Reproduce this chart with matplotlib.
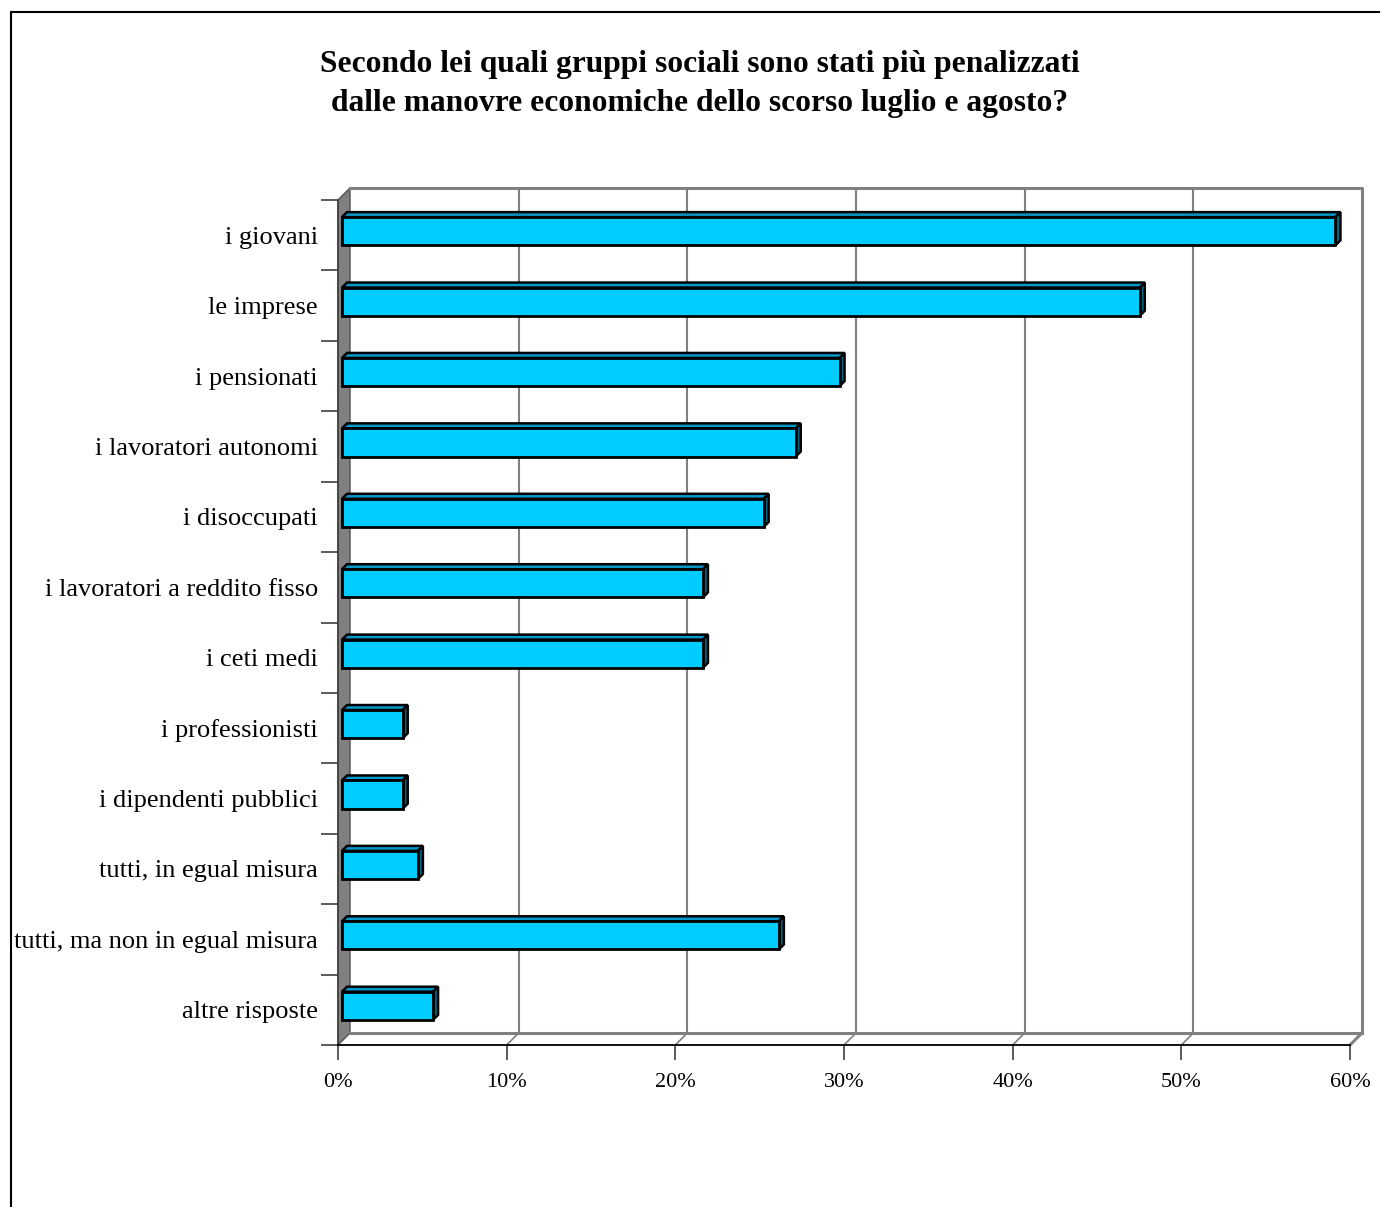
import matplotlib.pyplot as plt
from matplotlib.patches import Polygon, Rectangle

plt.rcParams['font.family'] = ['Liberation Serif', 'DejaVu Serif']

# data
categories = ["i giovani", "le imprese", "i pensionati", "i lavoratori autonomi",
              "i disoccupati", "i lavoratori a reddito fisso", "i ceti medi",
              "i professionisti", "i dipendenti pubblici", "tutti, in egual misura",
              "tutti, ma non in egual misura", "altre risposte"]
values = [58.9, 47.3, 29.5, 26.9, 25.0, 21.4, 21.4, 3.6, 3.6, 4.5, 25.9, 5.4]
xticks = [0, 10, 20, 30, 40, 50, 60]
xtick_labels = ["0%", "10%", "20%", "30%", "40%", "50%", "60%"]
title = ("Secondo lei quali gruppi sociali sono stati più penalizzati\n"
         "dalle manovre economiche dello scorso luglio e agosto?")

W, H = 1380, 1207
fig = plt.figure(figsize=(W / 100, H / 100), dpi=100)
ax = fig.add_axes([338 / W, 1 - 1045 / H, (1350 - 338) / W, (1045 - 200) / H])

n = len(categories)
xmax = 60
ax.set_xlim(0, xmax)
ax.set_ylim(n, 0)

# pixel sizes of the pseudo 3d depth, turned into data units
px_x = xmax / (1350 - 338)
px_y = n / (1045 - 200)
Dx, Dy = 12 * px_x, 12 * px_y      # wall depth
dx, dy = 4 * px_x, 4 * px_y        # bar set back from front
bx, by = 5 * px_x, 5 * px_y        # bar depth
grey = "#808080"

# left wall
ax.add_patch(Polygon([(0, 0), (Dx, -Dy), (Dx, n - Dy), (0, n)], closed=True,
                     facecolor=grey, edgecolor="#505050", lw=1, clip_on=False, zorder=1))
# back wall outline
ax.plot([Dx, xmax + Dx, xmax + Dx], [-Dy, -Dy, n - Dy], color=grey, lw=2.2,
        clip_on=False, zorder=1)
ax.plot([Dx, xmax + Dx], [n - Dy, n - Dy], color=grey, lw=2.2, clip_on=False, zorder=1)
ax.plot([xmax, xmax + Dx], [n, n - Dy], color=grey, lw=2.2, clip_on=False, zorder=1)

# gridlines on back wall and floor
for t in xticks[1:-1]:
    ax.plot([t + Dx, t + Dx], [-Dy, n - Dy], color=grey, lw=1.5, clip_on=False, zorder=1)
    ax.plot([t, t + Dx], [n, n - Dy], color=grey, lw=1.2, clip_on=False, zorder=1)

# bars
bar_h = 0.4
for i, v in enumerate(values):
    yc = i + 0.5 - dy
    yt, yb = yc - bar_h / 2, yc + bar_h / 2
    x0, x1 = dx, dx + v
    ax.add_patch(Polygon([(x0, yt), (x0 + bx, yt - by), (x1 + bx, yt - by), (x1, yt)],
                         closed=True, facecolor="#0099CC", edgecolor="black", lw=1.8,
                         joinstyle="miter", clip_on=False, zorder=3))
    ax.add_patch(Polygon([(x1, yt), (x1 + bx, yt - by), (x1 + bx, yb - by), (x1, yb)],
                         closed=True, facecolor="#006680", edgecolor="black", lw=1.8,
                         joinstyle="miter", clip_on=False, zorder=3))
    ax.barh(yc, v, left=x0, height=bar_h, color="#00CCFF", edgecolor="black",
            linewidth=2, zorder=4)

# axes and ticks
for s in ["top", "right"]:
    ax.spines[s].set_visible(False)
ax.spines["bottom"].set_color("black")
ax.spines["bottom"].set_linewidth(1.3)
ax.spines["left"].set_color("#404040")
ax.spines["left"].set_linewidth(1.2)
ax.spines["bottom"].set_zorder(5)

ax.set_xticks(xticks)
ax.set_xticklabels(xtick_labels, fontsize=16)
ax.tick_params(axis="x", length=11, width=1.2, color="#404040", pad=9.5)

ax.set_yticks(range(n + 1))
ax.set_yticklabels([])
ax.set_yticks([i + 0.5 for i in range(n)], minor=True)
ax.set_yticklabels(categories, minor=True, fontsize=19)
ax.tick_params(axis="y", which="major", length=12, width=1.2, color="#404040")
ax.tick_params(axis="y", which="minor", length=0, pad=14.5)

fig.text(0.507, 1 - 84 / H, title, ha="center", va="center", fontsize=22.7,
         fontweight="bold", linespacing=1.45)

# outer frame
fig.add_artist(Rectangle((11 / W, -0.1), 1.2, 1 - 12 / H + 0.1, transform=fig.transFigure,
                         fill=False, edgecolor="black", lw=1.5))

fig.savefig("out.png", dpi=100)
